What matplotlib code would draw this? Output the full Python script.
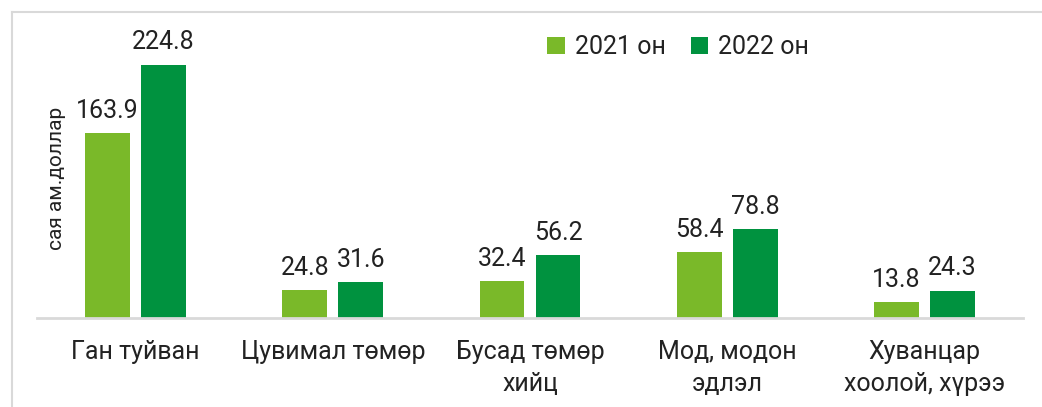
import numpy as np
import matplotlib.pyplot as plt
from matplotlib.lines import Line2D

plt.rcParams['font.family'] = ['Roboto', 'DejaVu Sans']

# data
categories = ['Ган туйван', 'Цувимал төмөр', 'Бусад төмөр\nхийц', 'Мод, модон\nэдлэл', 'Хуванцар\nхоолой, хүрээ']
v2021 = [163.9, 24.8, 32.4, 58.4, 13.8]
v2022 = [224.8, 31.6, 56.2, 78.8, 24.3]
series_names = ['2021 он', '2022 он']
colors = ['#7AB929', '#00923F']

W, H = 1042, 407
fig = plt.figure(figsize=(W / 100, H / 100), dpi=100)

# outer chart frame (light grey, cut at the right/bottom edge)
fig.add_artist(Line2D([12 / W, 12 / W], [0, 1 - 12 / H], color='#D9D9D9', lw=1.5))
fig.add_artist(Line2D([12 / W, 1], [1 - 12 / H, 1 - 12 / H], color='#D9D9D9', lw=1.5))

ax = fig.add_axes([37 / W, 89 / H, 986 / W, 298 / H])
x = np.arange(len(categories))
bw = 0.228
gap = 0.056
b1 = ax.bar(x - (bw + gap) / 2, v2021, bw, color=colors[0], label=series_names[0])
b2 = ax.bar(x + (bw + gap) / 2, v2022, bw, color=colors[1], label=series_names[1])

for bars, vals in [(b1, v2021), (b2, v2022)]:
    for b, v in zip(bars, vals):
        ax.text(b.get_x() + b.get_width() / 2, v + 9, f'{v:.1f}', ha='center', va='bottom',
                fontsize=18, color='#222222')

ax.set_xlim(-0.5, len(categories) - 0.5)
ax.set_ylim(0, 264.4)
ax.set_xticks(x)
ax.set_xticklabels(categories, fontsize=18, color='#222222', linespacing=1.4)
ax.tick_params(axis='x', length=0, pad=16)
ax.set_yticks([])
for s in ['top', 'right', 'left']:
    ax.spines[s].set_visible(False)
ax.spines['bottom'].set_color('#D9D9D9')
ax.spines['bottom'].set_linewidth(2)

fig.text(56 / W, 1 - 178 / H, 'сая ам.доллар', rotation=90, ha='center', va='center',
         fontsize=15, color='#222222')

ax.legend(loc='center', bbox_to_anchor=(678 / W, 1 - 47 / H), bbox_transform=fig.transFigure,
          ncol=2, frameon=False, fontsize=18, handlelength=0.7, handleheight=0.7,
          handletextpad=0.4, columnspacing=1.0, labelcolor='#222222')

fig.savefig('out.png', dpi=100)
